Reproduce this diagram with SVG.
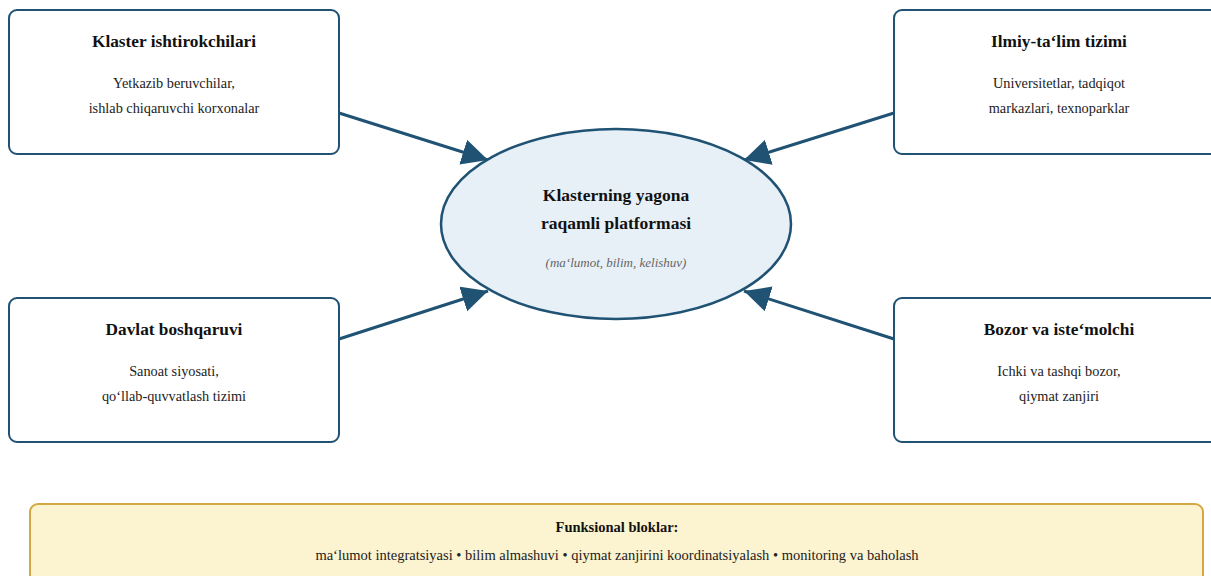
<svg xmlns="http://www.w3.org/2000/svg" width="1211" height="576" viewBox="0 0 1211 576">
<style>
.box{fill:#ffffff;stroke:#1f5273;stroke-width:2}
.title{font-family:"Liberation Serif","Times New Roman",serif;font-weight:bold;font-size:17.3px;fill:#111;text-anchor:middle}
.sub{font-family:"Liberation Serif","Times New Roman",serif;font-size:14.3px;fill:#222;text-anchor:middle}
.conn{stroke:#1f5273;stroke-width:3;fill:none;marker-end:url(#arrow)}
</style>
<defs>
<marker id="arrow" markerUnits="userSpaceOnUse" markerWidth="28" markerHeight="28" viewBox="0 0 28 28" refX="26" refY="13" orient="auto">
<path d="M0,0 L26,13 L0,26 z" fill="#1f5273"/>
</marker>
</defs>
<rect width="1211" height="576" fill="#ffffff"/>
<g id="connectors">
<line class="conn" x1="339" y1="113" x2="488" y2="160"/>
<line class="conn" x1="894" y1="113" x2="744" y2="160"/>
<line class="conn" x1="339" y1="339" x2="488" y2="291"/>
<line class="conn" x1="894" y1="339" x2="744" y2="291"/>
</g>
<g id="platform">
<ellipse cx="616" cy="224" rx="175" ry="95" fill="#e8f0f7" stroke="#1f5273" stroke-width="2.5"/>
<text class="title" x="616" y="201" style="font-size:17.5px">Klasterning yagona</text>
<text class="title" x="616" y="229" style="font-size:17.5px">raqamli platformasi</text>
<text x="616" y="267" font-family="Liberation Serif, Times New Roman, serif" font-style="italic" font-size="13" fill="#666" text-anchor="middle">(ma‘lumot, bilim, kelishuv)</text>
</g>
<g id="klaster">
<rect class="box" x="9" y="10" width="330" height="144" rx="8"/>
<text class="title" x="174" y="47">Klaster ishtirokchilari</text>
<text class="sub" x="174" y="88">Yetkazib beruvchilar,</text>
<text class="sub" x="174" y="113">ishlab chiqaruvchi korxonalar</text>
</g>
<g id="ilmiy">
<rect class="box" x="894" y="10" width="330" height="144" rx="8"/>
<text class="title" x="1059" y="47">Ilmiy-ta‘lim tizimi</text>
<text class="sub" x="1059" y="88">Universitetlar, tadqiqot</text>
<text class="sub" x="1059" y="113">markazlari, texnoparklar</text>
</g>
<g id="davlat">
<rect class="box" x="9" y="298" width="330" height="144" rx="8"/>
<text class="title" x="174" y="335">Davlat boshqaruvi</text>
<text class="sub" x="174" y="376">Sanoat siyosati,</text>
<text class="sub" x="174" y="401">qo‘llab-quvvatlash tizimi</text>
</g>
<g id="bozor">
<rect class="box" x="894" y="298" width="330" height="144" rx="8"/>
<text class="title" x="1059" y="335">Bozor va iste‘molchi</text>
<text class="sub" x="1059" y="376">Ichki va tashqi bozor,</text>
<text class="sub" x="1059" y="401">qiymat zanjiri</text>
</g>
<g id="funksional">
<rect x="30" y="504" width="1173" height="100" rx="8" fill="#fcf3d0" stroke="#d4a843" stroke-width="2"/>
<text x="617" y="532" font-family="Liberation Serif, Times New Roman, serif" font-weight="bold" font-size="14.5" fill="#111" text-anchor="middle">Funksional bloklar:</text>
<text class="sub" x="617" y="560" style="font-size:14.5px">ma‘lumot integratsiyasi • bilim almashuvi • qiymat zanjirini koordinatsiyalash • monitoring va baholash</text>
</g>
</svg>
